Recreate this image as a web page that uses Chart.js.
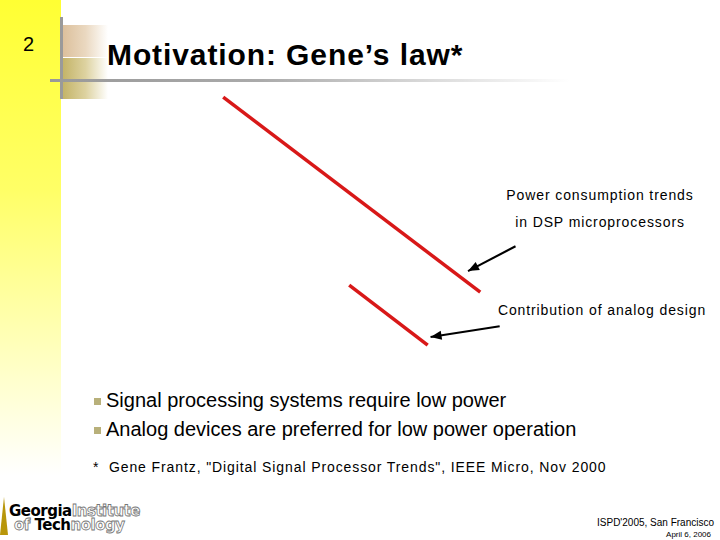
<!DOCTYPE html>
<html>
<head>
<meta charset="utf-8">
<script src="https://cdn.jsdelivr.net/npm/chart.js@4/dist/chart.umd.min.js"></script>
<style>
  html, body { margin: 0; padding: 0; background: #fff; }
  #slide { position: relative; width: 720px; height: 540px; overflow: hidden; font-family: "Liberation Sans", Arial, sans-serif; }
  .abs { position: absolute; line-height: 1; white-space: nowrap; }
  #yellow { left: 0; top: 0; width: 61px; height: 540px; background: linear-gradient(to bottom, #ffff33 0%, #ffff66 35%, #ffffcc 70%, #ffffff 88%); }
  #vline { left: 60px; top: 17px; width: 3px; height: 82px; background: #9a9a9a; }
  #hline { left: 50px; top: 79px; width: 520px; height: 3px; background: linear-gradient(to right, #999 0%, #aaa 40%, #ddd 75%, #fff 100%); }
  #peach { left: 63px; top: 25px; width: 45px; height: 32px; background: linear-gradient(to right, #dcc09c 0%, #ead8c0 50%, #fff 100%); }
  #olive { left: 63px; top: 58px; width: 45px; height: 41px; background: linear-gradient(to right, #c4b468 0%, #ddd2a0 50%, #fff 100%); }
  #num { left: 23px; top: 34px; font-size: 20px; }
  #title { left: 107px; top: 40px; font-size: 30px; font-weight: bold; letter-spacing: 0.9px; }
  .note { font-size: 14px; width: 240px; text-align: center; letter-spacing: 0.9px; }
  .bullet { left: 106px; font-size: 20px; }
  .sq { width: 7px; height: 7px; background: #b8b07a; }
  #foot { left: 93px; top: 460px; font-size: 14px; letter-spacing: 0.9px; }
  #conf { right: 6px; top: 518px; font-size: 10px; text-align: right; }
  #date { right: 9px; top: 531px; font-size: 8px; text-align: right; }
  #logo1, #logo2 { font-family: "DejaVu Sans", Arial, sans-serif; font-weight: bold; font-size: 15px; letter-spacing: -0.5px; }
  .ol { color: #fff; -webkit-text-stroke: 0.8px #777; }
  #tower { left: 0; top: 497px; width: 0; height: 0; border-left: 4px solid transparent; border-right: 4px solid transparent; border-bottom: 38px solid #b8960a; }
  #chart { position: absolute; left: 0; top: 0; }
</style>
</head>
<body>
<div id="slide">
  <div class="abs" id="yellow"></div>
  <div class="abs" id="peach"></div>
  <div class="abs" id="olive"></div>
  <div class="abs" id="hline"></div>
  <div class="abs" id="vline"></div>
  <div class="abs" id="num">2</div>
  <div class="abs" id="title">Motivation: Gene’s law*</div>

  <div class="abs note" style="left:480px; top:188px;">Power consumption trends</div>
  <div class="abs note" style="left:480px; top:215px;">in DSP microprocessors</div>
  <div class="abs note" style="left:482px; top:303px;">Contribution of analog design</div>

  <div class="abs sq" style="left:94px; top:398px;"></div>
  <div class="abs bullet" style="top:390px;">Signal processing systems require low power</div>
  <div class="abs sq" style="left:94px; top:427px;"></div>
  <div class="abs bullet" style="top:419px;">Analog devices are preferred for low power operation</div>

  <div class="abs" id="foot">*&nbsp; Gene Frantz, "Digital Signal Processor Trends", IEEE Micro, Nov 2000</div>

  <div class="abs" id="tower"></div>
  <div class="abs" id="logo1" style="left:9px; top:504px;">Georgia<span class="ol">Institute</span></div>
  <div class="abs" id="logo2" style="left:14px; top:518px;"><span class="ol">of</span> Tech<span class="ol">nology</span></div>

  <div class="abs" id="conf">ISPD'2005, San Francisco</div>
  <div class="abs" id="date">April 6, 2006</div>

  <canvas id="chart" width="720" height="540"></canvas>
</div>
<script>
// values in slide units: x 0..100 left to right, y 0..100 bottom to top
const dspPower = [{ x: 31.0, y: 82.0 }, { x: 66.7, y: 45.9 }];
const analogPower = [{ x: 48.5, y: 47.2 }, { x: 59.4, y: 36.1 }];
const arrowDsp = [{ x: 71.6, y: 54.4 }, { x: 65.0, y: 49.8 }];
const arrowAnalog = [{ x: 69.4, y: 39.6 }, { x: 59.8, y: 37.6 }];

const arrowHeads = {
  id: "arrowHeads",
  afterDatasetsDraw(chart) {
    const ctx = chart.ctx;
    chart.data.datasets.forEach((ds, i) => {
      if (!ds.arrow) return;
      const pts = chart.getDatasetMeta(i).data;
      const a = pts[pts.length - 2], b = pts[pts.length - 1];
      const ang = Math.atan2(b.y - a.y, b.x - a.x);
      const len = 11, half = 4.5;
      ctx.save();
      ctx.fillStyle = ds.borderColor;
      ctx.translate(b.x, b.y);
      ctx.rotate(ang);
      ctx.beginPath();
      ctx.moveTo(0, 0);
      ctx.lineTo(-len, -half);
      ctx.lineTo(-len, half);
      ctx.closePath();
      ctx.fill();
      ctx.restore();
    });
  },
};

new Chart(document.getElementById("chart"), {
  type: "scatter",
  data: {
    datasets: [
      { data: dspPower, showLine: true, borderColor: "#d81818", borderWidth: 3.5, pointRadius: 0 },
      { data: analogPower, showLine: true, borderColor: "#d81818", borderWidth: 3.5, pointRadius: 0 },
      { data: arrowDsp, showLine: true, borderColor: "#000000", borderWidth: 2, pointRadius: 0, arrow: true },
      { data: arrowAnalog, showLine: true, borderColor: "#000000", borderWidth: 2, pointRadius: 0, arrow: true },
    ],
  },
  options: {
    responsive: false,
    animation: false,
    layout: { padding: 0 },
    plugins: { legend: { display: false }, tooltip: { enabled: false } },
    scales: {
      x: { type: "linear", min: 0, max: 100, display: false },
      y: { type: "linear", min: 0, max: 100, display: false },
    },
  },
  plugins: [arrowHeads],
});
</script>
</body>
</html>
